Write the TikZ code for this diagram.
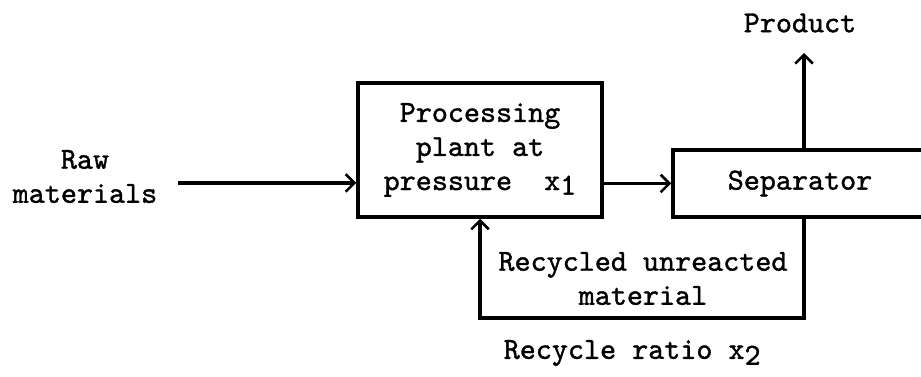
\documentclass[tikz,border=0pt]{standalone}
\usepackage{fontspec}
\setmonofont{lmmono10-regular.otf}[UprightFeatures={FakeBold=1.2}]
\usepackage{tikz}
\usetikzlibrary{arrows.meta}

\begin{document}
\begin{tikzpicture}[line width=2pt,
  font=\fontsize{17.4}{19.4}\selectfont\ttfamily,
  >={Straight Barb[length=5pt,width=10pt,line width=1.5pt]},
  block/.style={draw,rectangle,inner sep=0pt}]
\useasboundingbox (0,0) rectangle (18.42,7.54);
\node [block,minimum width=4.88cm,minimum height=2.68cm,align=center] (proc) at (9.60,4.54) {Processing\\plant at\\pressure\ \ x\raisebox{-0.35ex}{1}};
\node [block,minimum width=5.24cm,minimum height=1.34cm] (sep) at (16.08,3.87) {};
\node at (16.0,3.87) (septext) {Separator};
\node [inner sep=0pt,align=center] (raw) at (1.70,4.01) {Raw\\materials};
\node (prod) at (16.0,7.08) {Product};
\node [align=center] (recyc) at (12.86,1.97) {Recycled unreacted\\material};
\node [inner sep=0pt,anchor=west] (ratio) at (10.04,0.48) {Recycle ratio x\raisebox{-0.45ex}{2}};
\coordinate (feed) at (3.56,3.88);
\coordinate (out) at (16.08,6.48);
\coordinate (loop) at (0,1.18);
\draw [->] (feed) -- (feed -| proc.west);
\draw [->] (proc.east |- sep.west) -- (sep.west);
\draw [->] (sep.north) -- (out);
\draw [->] (sep.south) -- (sep.south |- loop) -- (proc.south |- loop) -- (proc.south);

\end{tikzpicture}
\end{document}
